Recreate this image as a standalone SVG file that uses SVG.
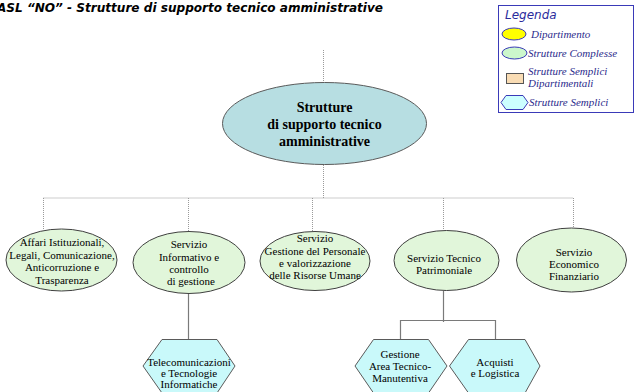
<svg xmlns="http://www.w3.org/2000/svg" width="635" height="392" viewBox="0 0 635 392">
  <style>
    .title { font-family: "DejaVu Sans", sans-serif; font-weight: bold; font-style: italic; font-size: 12.5px; fill: #000; }
    .node { font-family: 'Liberation Serif', 'DejaVu Serif', serif; font-size: 11px; fill: #000; text-anchor: middle; }
    .root { font-family: 'Liberation Serif', 'DejaVu Serif', serif; font-size: 14px; font-weight: bold; fill: #000; text-anchor: middle; }
    .cx { fill: #e1f6da; stroke: #404040; stroke-width: 1; }
    .hex { fill: #c9f9fa; stroke: #5a5a5a; stroke-width: 1; }
    .dot { fill: none; stroke: #9a9a9a; stroke-width: 1; stroke-dasharray: 1 1; }
    .solid { fill: none; stroke: #7a7a7a; stroke-width: 1.2; }
    .leg { font-family: 'Liberation Serif', 'DejaVu Serif', serif; font-style: italic; font-size: 11px; fill: #2b2b8c; }
  </style>

  <rect width="635" height="392" fill="#ffffff"/>

  <!-- heading -->
  <text class="title" x="-3" y="12" textLength="386" lengthAdjust="spacingAndGlyphs">ASL “NO” - Strutture  di supporto tecnico amministrative</text>

  <!-- legend -->
  <g id="legend">
    <rect x="498.5" y="5.5" width="135" height="107" fill="#ffffff" stroke="#3a3ab8" stroke-width="1"/>
    <text x="505" y="19" font-family="DejaVu Sans, sans-serif" font-style="italic" font-size="12" fill="#2b2b9c">Legenda</text>
    <ellipse cx="514" cy="34" rx="12" ry="6" fill="#ffff00" stroke="#3a3ab8"/>
    <text class="leg" x="531" y="37.5">Dipartimento</text>
    <ellipse cx="514.5" cy="53" rx="12.5" ry="6" fill="#ccf7cc" stroke="#3a3ab8"/>
    <text class="leg" x="528" y="56.5">Strutture Complesse</text>
    <rect x="506.5" y="73.5" width="17" height="10" fill="#f9dcb4" stroke="#555555"/>
    <text class="leg" x="528" y="74.5">Strutture Semplici</text>
    <text class="leg" x="528" y="86.5">Dipartimentali</text>
    <polygon points="501,102.5 506,95.5 523,95.5 528,102.5 523,109.5 506,109.5" fill="#ccffff" stroke="#3a3ab8"/>
    <text class="leg" x="529" y="106">Strutture Semplici</text>
  </g>

  <!-- connectors -->
  <g id="connectors">
    <path class="dot" d="M323.5 50 V83"/>
    <path class="dot" d="M323.5 165 V198"/>
    <path class="dot" d="M43.5 198 H573.5"/>
    <path class="dot" d="M43.5 198 V229"/>
    <path class="dot" d="M188.5 198 V232"/>
    <path class="dot" d="M312.5 198 V232"/>
    <path class="dot" d="M443.5 198 V230"/>
    <path class="dot" d="M573.5 198 V228"/>
    <path class="solid" d="M188.5 293 V339"/>
    <path class="solid" d="M443.5 291 V322"/>
    <path class="solid" d="M400.5 339 V320.5 H495.5 V339"/>
  </g>

  <g id="root">
    <ellipse cx="324.5" cy="123.5" rx="102" ry="41" fill="#b7dee2" stroke="#5a5a5a"/>
    <text class="root" x="324.5" y="112">Strutture</text>
    <text class="root" x="324.5" y="129">di supporto tecnico</text>
    <text class="root" x="324.5" y="146">amministrative</text>
  </g>

  <g id="affari">
    <ellipse class="cx" cx="61.5" cy="260" rx="55.5" ry="31"/>
    <text class="node" x="62" y="245.5">Affari Istituzionali,</text>
    <text class="node" x="62" y="258.5">Legali, Comunicazione,</text>
    <text class="node" x="62" y="271">Anticorruzione e</text>
    <text class="node" x="62" y="283.5">Trasparenza</text>
  </g>

  <g id="informativo">
    <ellipse class="cx" cx="189" cy="262.5" rx="56" ry="31"/>
    <text class="node" x="189" y="248">Servizio</text>
    <text class="node" x="189" y="260.5">Informativo e</text>
    <text class="node" x="189" y="273">controllo</text>
    <text class="node" x="191" y="285">di gestione</text>
  </g>

  <g id="personale">
    <ellipse class="cx" cx="315" cy="261" rx="55" ry="29.5"/>
    <text class="node" x="315" y="241.5">Servizio</text>
    <text class="node" x="315" y="255">Gestione del Personale</text>
    <text class="node" x="315" y="266.5">e valorizzazione</text>
    <text class="node" x="315" y="279">delle Risorse Umane</text>
  </g>

  <g id="tecnico">
    <ellipse class="cx" cx="446.5" cy="260.5" rx="52.5" ry="30"/>
    <text class="node" x="444" y="261.5">Servizio Tecnico</text>
    <text class="node" x="444" y="274">Patrimoniale</text>
  </g>

  <g id="economico">
    <ellipse class="cx" cx="571.5" cy="260" rx="55" ry="32"/>
    <text class="node" x="574" y="255.5">Servizio</text>
    <text class="node" x="574" y="267.5">Economico</text>
    <text class="node" x="574" y="280">Finanziario</text>
  </g>

  <g id="telecomunicazioni">
    <polygon class="hex" points="143,366 162,339.5 217,339.5 235,366 217,393 162,393"/>
    <text class="node" x="189" y="365.5">Telecomunicazioni</text>
    <text class="node" x="189" y="376.5">e Tecnologie</text>
    <text class="node" x="189" y="388">Informatiche</text>
  </g>

  <g id="manutentiva">
    <polygon class="hex" points="355,366 373.5,339.5 428.5,339.5 447,366 428.5,393 373.5,393"/>
    <text class="node" x="400" y="358">Gestione</text>
    <text class="node" x="400" y="370">Area Tecnico-</text>
    <text class="node" x="400" y="382">Manutentiva</text>
  </g>

  <g id="acquisti">
    <polygon class="hex" points="449.5,366 468.5,339.5 525,339.5 540,366 525,393 468.5,393"/>
    <text class="node" x="495" y="366">Acquisti</text>
    <text class="node" x="495" y="376.5">e Logistica</text>
  </g>
</svg>
